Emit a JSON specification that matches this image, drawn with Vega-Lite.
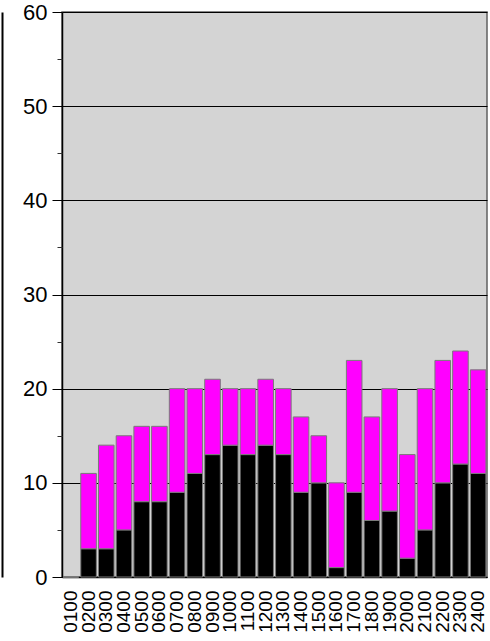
{
  "$schema": "https://vega.github.io/schema/vega-lite/v6.json",
  "autosize": "none",
  "width": 425,
  "height": 565,
  "padding": {"left": 62, "top": 12, "right": 3, "bottom": 64},
  "background": "white",
  "config": {
    "view": {"fill": "#d4d4d4", "stroke": "#606060", "strokeWidth": 1.5},
    "font": "Liberation Sans"
  },
  "data": {
    "values": [
      {"hour": "0100", "series": "Series 1", "value": 0}, {"hour": "0100", "series": "Series 2", "value": 0},
      {"hour": "0200", "series": "Series 1", "value": 3}, {"hour": "0200", "series": "Series 2", "value": 8},
      {"hour": "0300", "series": "Series 1", "value": 3}, {"hour": "0300", "series": "Series 2", "value": 11},
      {"hour": "0400", "series": "Series 1", "value": 5}, {"hour": "0400", "series": "Series 2", "value": 10},
      {"hour": "0500", "series": "Series 1", "value": 8}, {"hour": "0500", "series": "Series 2", "value": 8},
      {"hour": "0600", "series": "Series 1", "value": 8}, {"hour": "0600", "series": "Series 2", "value": 8},
      {"hour": "0700", "series": "Series 1", "value": 9}, {"hour": "0700", "series": "Series 2", "value": 11},
      {"hour": "0800", "series": "Series 1", "value": 11}, {"hour": "0800", "series": "Series 2", "value": 9},
      {"hour": "0900", "series": "Series 1", "value": 13}, {"hour": "0900", "series": "Series 2", "value": 8},
      {"hour": "1000", "series": "Series 1", "value": 14}, {"hour": "1000", "series": "Series 2", "value": 6},
      {"hour": "1100", "series": "Series 1", "value": 13}, {"hour": "1100", "series": "Series 2", "value": 7},
      {"hour": "1200", "series": "Series 1", "value": 14}, {"hour": "1200", "series": "Series 2", "value": 7},
      {"hour": "1300", "series": "Series 1", "value": 13}, {"hour": "1300", "series": "Series 2", "value": 7},
      {"hour": "1400", "series": "Series 1", "value": 9}, {"hour": "1400", "series": "Series 2", "value": 8},
      {"hour": "1500", "series": "Series 1", "value": 10}, {"hour": "1500", "series": "Series 2", "value": 5},
      {"hour": "1600", "series": "Series 1", "value": 1}, {"hour": "1600", "series": "Series 2", "value": 9},
      {"hour": "1700", "series": "Series 1", "value": 9}, {"hour": "1700", "series": "Series 2", "value": 14},
      {"hour": "1800", "series": "Series 1", "value": 6}, {"hour": "1800", "series": "Series 2", "value": 11},
      {"hour": "1900", "series": "Series 1", "value": 7}, {"hour": "1900", "series": "Series 2", "value": 13},
      {"hour": "2000", "series": "Series 1", "value": 2}, {"hour": "2000", "series": "Series 2", "value": 11},
      {"hour": "2100", "series": "Series 1", "value": 5}, {"hour": "2100", "series": "Series 2", "value": 15},
      {"hour": "2200", "series": "Series 1", "value": 10}, {"hour": "2200", "series": "Series 2", "value": 13},
      {"hour": "2300", "series": "Series 1", "value": 12}, {"hour": "2300", "series": "Series 2", "value": 12},
      {"hour": "2400", "series": "Series 1", "value": 11}, {"hour": "2400", "series": "Series 2", "value": 11}
    ]
  },
  "encoding": {
    "x": {
      "field": "hour", "type": "ordinal",
      "scale": {"paddingInner": 0.12, "paddingOuter": 0.06},
      "axis": {
        "title": null, "labelAngle": 270, "labelFontSize": 19, "labelColor": "black",
        "ticks": false, "labelPadding": 13, "domainColor": "black", "domainWidth": 1.5,
        "labelFont": "Liberation Sans"
      }
    },
    "y": {
      "field": "value", "type": "quantitative", "aggregate": "sum",
      "scale": {"domain": [0, 60], "nice": false}
    },
    "color": {
      "field": "series", "type": "nominal",
      "scale": {"domain": ["Series 1", "Series 2"], "range": ["#000000", "#ff00ff"]},
      "legend": null
    },
    "order": {"field": "series", "sort": "ascending"}
  },
  "layer": [
    {
      "mark": {"type": "bar", "stroke": "#7a7a7a", "strokeWidth": 1},
      "encoding": {
        "y": {
          "field": "value", "type": "quantitative", "aggregate": "sum",
          "scale": {"domain": [0, 60], "nice": false},
          "axis": {
            "title": null, "values": [0, 10, 20, 30, 40, 50, 60], "tickSize": 10,
            "tickColor": "black", "labelFontSize": 22, "labelColor": "black",
            "labelPadding": 5, "domainColor": "black", "domainWidth": 1.5,
            "grid": true, "gridColor": "black", "gridWidth": 1, "gridOpacity": 1,
            "labelFont": "Liberation Sans"
          }
        }
      }
    },
    {
      "mark": {"type": "bar", "opacity": 0},
      "encoding": {
        "y": {
          "field": "value", "type": "quantitative", "aggregate": "sum",
          "scale": {"domain": [0, 60], "nice": false},
          "axis": {
            "orient": "left", "title": null, "values": [5, 15, 25, 35, 45, 55],
            "tickSize": 5, "tickColor": "#333333", "labels": false, "domain": false, "grid": false
          }
        }
      }
    },
    {
      "mark": {"type": "bar", "opacity": 0},
      "encoding": {
        "y": {
          "field": "value", "type": "quantitative", "aggregate": "sum",
          "scale": {"domain": [0, 60], "nice": false},
          "axis": {
            "orient": "left", "title": null, "ticks": false, "labels": false, "grid": false,
            "offset": 60, "domainColor": "black", "domainWidth": 2
          }
        }
      }
    }
  ],
  "resolve": {"axis": {"y": "independent"}}
}
